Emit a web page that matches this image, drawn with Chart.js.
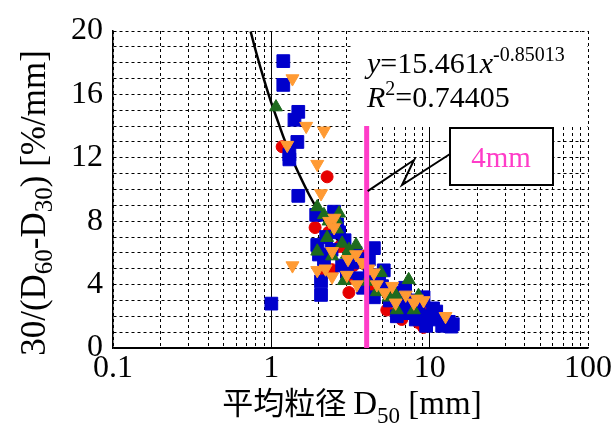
<!DOCTYPE html>
<html lang="ja">
  <head>
    <meta charset="UTF-8" />
    <title>平均粒径 D50 と 30/(D60-D30)</title>
    <script src="https://cdn.jsdelivr.net/npm/chart.js"></script>
    <style>
      html, body { margin: 0; padding: 0; background: #fff; }
      #field { width: 613px; height: 423px; }
    </style>
  </head>
  <body>
    <div id="field"><canvas id="myChart"></canvas></div>

    <script>
      // tick values
      const xGridValues = [0.1, 0.2, 0.3, 0.4, 0.5, 0.6, 0.7, 0.8, 0.9,
        1, 2, 3, 4, 5, 6, 7, 8, 9, 10, 20, 30, 40, 50, 60, 70, 80, 90, 100];
      const xLabelValues = [0.1, 1, 10, 100];
      const xSolidValues = [1, 10];
      const yLabelStep = 4;

      // series: [D50 mm, 30/(D60-D30)]
      const blueSquares = [
        [1.0, 2.8], [1.19, 18.1], [1.19, 16.6], [1.48, 14.9], [1.40, 14.4], [1.46, 13.0],
        [1.30, 12.2], [1.30, 11.9], [1.48, 9.6], [1.92, 8.4], [2.49, 8.6], [2.22, 7.0],
        [2.68, 7.3], [2.0, 5.9], [2.15, 5.6], [3.23, 5.4], [4.44, 6.3], [4.13, 5.6],
        [5.13, 4.9], [2.06, 4.2], [2.06, 3.35], [4.44, 3.2], [6.66, 3.5], [6.86, 2.6],
        [8.91, 3.0], [9.87, 2.0], [8.17, 1.8], [12.6, 1.6], [13.7, 1.35], [5.0, 3.9],
        [7.5, 2.2], [10.5, 2.5], [11.5, 1.8], [2.6, 7.8], [2.9, 6.8], [3.4, 6.0],
        [3.0, 4.8], [3.6, 4.4], [4.8, 4.5], [5.6, 3.0], [7.0, 3.8], [6.2, 2.0],
        [9.5, 1.4], [11.0, 2.3], [14.0, 1.5], [2.4, 6.2], [2.8, 5.2], [1.95, 6.5],
        [3.8, 3.8], [4.2, 4.6], [12.0, 1.4], [7.8, 3.0], [8.5, 2.5], [9.15, 3.2],
        [9.6, 2.0], [13.2, 1.65], [7.7, 2.2]
      ];
      const redCircles = [
        [1.17, 12.7], [2.25, 10.8], [1.89, 7.6], [2.42, 4.94], [2.15, 4.94], [3.09, 3.5],
        [3.18, 4.4], [5.36, 2.4], [6.66, 1.8], [3.84, 5.8], [4.32, 3.9], [2.7, 6.4],
        [3.3, 5.2], [4.6, 4.6], [6.0, 3.0], [7.2, 2.6], [8.5, 1.6], [2.3, 7.3],
        [3.6, 4.1], [9.5, 2.2], [9.15, 1.3]
      ];
      const greenTriangles = [
        [1.07, 15.2], [1.95, 8.9], [2.15, 8.4], [2.68, 8.5], [2.56, 8.1], [2.25, 6.96],
        [2.80, 6.6], [3.43, 6.5], [3.09, 6.2], [2.42, 5.8], [1.95, 6.1], [4.92, 4.75],
        [4.64, 3.54], [2.88, 4.24], [6.1, 3.35], [7.37, 4.3], [6.2, 2.4], [7.94, 2.4],
        [2.3, 8.0], [3.0, 5.9], [4.0, 4.2], [5.5, 3.2], [8.5, 3.3], [2.6, 7.5]
      ];
      const orangeTriangles = [
        [1.36, 17.0], [1.66, 14.0], [2.15, 13.7], [1.26, 12.8], [1.95, 11.6], [2.06, 9.75],
        [2.32, 8.0], [2.49, 7.6], [2.42, 6.1], [3.05, 5.6], [3.43, 5.9], [1.36, 5.2],
        [1.95, 4.9], [2.42, 4.5], [3.73, 5.4], [4.44, 4.75], [4.64, 4.0], [3.47, 4.0],
        [5.2, 3.5], [7.06, 3.35], [7.94, 2.85], [9.15, 3.0], [6.1, 2.85], [12.6, 2.0],
        [2.2, 5.0], [3.0, 4.6], [4.1, 5.0], [5.8, 3.9], [8.3, 3.1], [2.5, 8.2]
      ];

      // fitted curve y = 15.461 x^-0.85013, sampled
      const fitX = [0.74, 0.8, 0.9, 1, 1.1, 1.2, 1.35, 1.5, 1.75, 2, 2.5, 3, 4, 5, 6, 8, 10, 12, 14];
      const fitY = [19.97, 18.69, 16.91, 15.46, 14.30, 13.24, 11.96, 10.95, 9.59, 8.58, 7.10,
        6.08, 4.76, 3.94, 3.37, 2.64, 2.18, 1.87, 1.64];

      // 4mm marker line
      const markX = 4;
      const markYTop = 14;

      const toPts = (arr) => arr.map(([x, y]) => ({ x: x, y: y }));

      const serif = "'Liberation Serif', 'Times New Roman', serif";

      function drawRuns(ctx, runs, x, y, align) {
        // runs: [text, font, dy]
        let total = 0;
        runs.forEach((r) => { ctx.font = r[1]; total += ctx.measureText(r[0]).width; });
        let cx = align === "center" ? x - total / 2 : x;
        runs.forEach((r) => {
          ctx.font = r[1];
          ctx.fillText(r[0], cx, y + (r[2] || 0));
          cx += ctx.measureText(r[0]).width;
        });
      }

      const extras = {
        id: "extras",
        beforeDatasetsDraw(chart) {
          const ctx = chart.ctx;
          const a = chart.chartArea;
          ctx.save();
          ctx.fillStyle = "#fff";
          ctx.fillRect(352, a.top + 1, a.right - 352 - 1, 126 - a.top);
          ctx.restore();
        },
        afterDraw(chart) {
          const ctx = chart.ctx;
          const xs = chart.scales.x;
          const ys = chart.scales.y;
          ctx.save();
          ctx.fillStyle = "#000";
          ctx.textBaseline = "alphabetic";

          // equation
          drawRuns(ctx, [
            ["y", "italic 30px " + serif],
            ["=15.461", "30px " + serif],
            ["x", "italic 30px " + serif],
            ["-0.85013", "20px " + serif, -12]
          ], 367, 73, "left");
          drawRuns(ctx, [
            ["R", "italic 30px " + serif],
            ["2", "20px " + serif, -12],
            ["=0.74405", "30px " + serif]
          ], 367, 107, "left");

          // leader line from 4mm line to the box
          const lx = xs.getPixelForValue(markX) + 1;
          const ly = ys.getPixelForValue(9.9);
          ctx.strokeStyle = "#000";
          ctx.lineWidth = 2;
          ctx.beginPath();
          ctx.moveTo(lx, ly);
          ctx.lineTo(414, 160);
          ctx.lineTo(402, 185);
          ctx.lineTo(450, 154);
          ctx.stroke();

          // 4mm box
          ctx.fillStyle = "#fff";
          ctx.fillRect(450, 128, 103, 57);
          ctx.strokeRect(450, 128, 103, 57);
          ctx.fillStyle = "#ff3cc8";
          ctx.font = "29px " + serif;
          ctx.textAlign = "center";
          ctx.fillText("4mm", 501, 167);
          ctx.textAlign = "left";

          // x title
          ctx.fillStyle = "#000";
          drawRuns(ctx, [
            ["平均粒径 ", "31px 'Noto Sans CJK JP', sans-serif"],
            ["D", "33px " + serif],
            ["50", "23px " + serif, 9],
            [" [mm]", "33px " + serif]
          ], 352, 414, "center");

          // y title, rotated
          ctx.translate(45, 203);
          ctx.rotate(-Math.PI / 2);
          drawRuns(ctx, [
            ["30/(D", "35px " + serif],
            ["60", "25px " + serif, 7],
            ["-D", "35px " + serif],
            ["30", "25px " + serif, 7],
            [") [%/mm]", "35px " + serif]
          ], 0, 0, "center");
          ctx.restore();
        }
      };

      const pointBase = { showLine: false, borderWidth: 1 };

      const config = {
        type: "scatter",
        data: {
          datasets: [
            {
              label: "4mm",
              data: [{ x: markX, y: 0 }, { x: markX, y: markYTop }],
              showLine: true,
              borderColor: "#ff3cc8",
              borderWidth: 5,
              borderCapStyle: "butt",
              pointRadius: 0
            },
            Object.assign({}, pointBase, {
              label: "orange",
              data: toPts(orangeTriangles),
              pointStyle: "triangle",
              rotation: 180,
              pointRadius: 7.5,
              backgroundColor: "#ff9a33",
              borderColor: "#ff9a33"
            }),
            Object.assign({}, pointBase, {
              label: "green",
              data: toPts(greenTriangles),
              pointStyle: "triangle",
              pointRadius: 7.5,
              backgroundColor: "#1e6b1e",
              borderColor: "#1e6b1e"
            }),
            Object.assign({}, pointBase, {
              label: "blue",
              data: toPts(blueSquares),
              pointStyle: "rect",
              pointRadius: 9,
              backgroundColor: "#0000cc",
              borderColor: "#0000cc"
            }),
            Object.assign({}, pointBase, {
              label: "red",
              data: toPts(redCircles),
              pointStyle: "circle",
              pointRadius: 6,
              backgroundColor: "#e60000",
              borderColor: "#e60000"
            }),
            {
              label: "fit",
              data: fitX.map((x, i) => ({ x: x, y: fitY[i] })),
              showLine: true,
              borderColor: "#000",
              borderWidth: 2.5,
              pointRadius: 0,
              cubicInterpolationMode: "monotone"
            }
          ]
        },
        options: {
          responsive: true,
          maintainAspectRatio: false,
          animation: false,
          layout: { padding: { top: 31, right: 23, left: 0, bottom: 0 } },
          plugins: {
            legend: { display: false },
            tooltip: { enabled: false }
          },
          scales: {
            x: {
              type: "logarithmic",
              min: 0.1,
              max: 100,
              afterBuildTicks: (scale) => {
                scale.ticks = xGridValues.map((v) => ({ value: v }));
              },
              afterFit: (scale) => { scale.height = 75; },
              ticks: {
                autoSkip: false,
                maxRotation: 0,
                padding: 1,
                color: "#000",
                font: { family: serif, size: 32 },
                callback: (v) => (xLabelValues.includes(v) ? String(v) : "")
              },
              grid: { color: "#000", lineWidth: 1, drawTicks: false, tickLength: 0 },
              border: {
                color: "#000",
                width: 1.5,
                dash: (ctx) => (ctx.tick && !xSolidValues.includes(ctx.tick.value) ? [3, 3] : [])
              }
            },
            y: {
              min: 0,
              max: 20,
              afterFit: (scale) => { scale.width = 113; },
              ticks: {
                stepSize: 1,
                autoSkip: false,
                padding: 10,
                color: "#000",
                font: { family: serif, size: 32 },
                callback: (v) => (v % yLabelStep === 0 ? String(v) : "")
              },
              grid: { color: "#000", lineWidth: 1, drawTicks: false, tickLength: 0 },
              border: {
                color: "#000",
                width: 1.5,
                dash: (ctx) => (ctx.tick && ctx.tick.value !== 0 ? [3, 3] : [])
              }
            }
          }
        },
        plugins: [extras]
      };

      new Chart(document.getElementById("myChart"), config);
    </script>
  </body>
</html>
